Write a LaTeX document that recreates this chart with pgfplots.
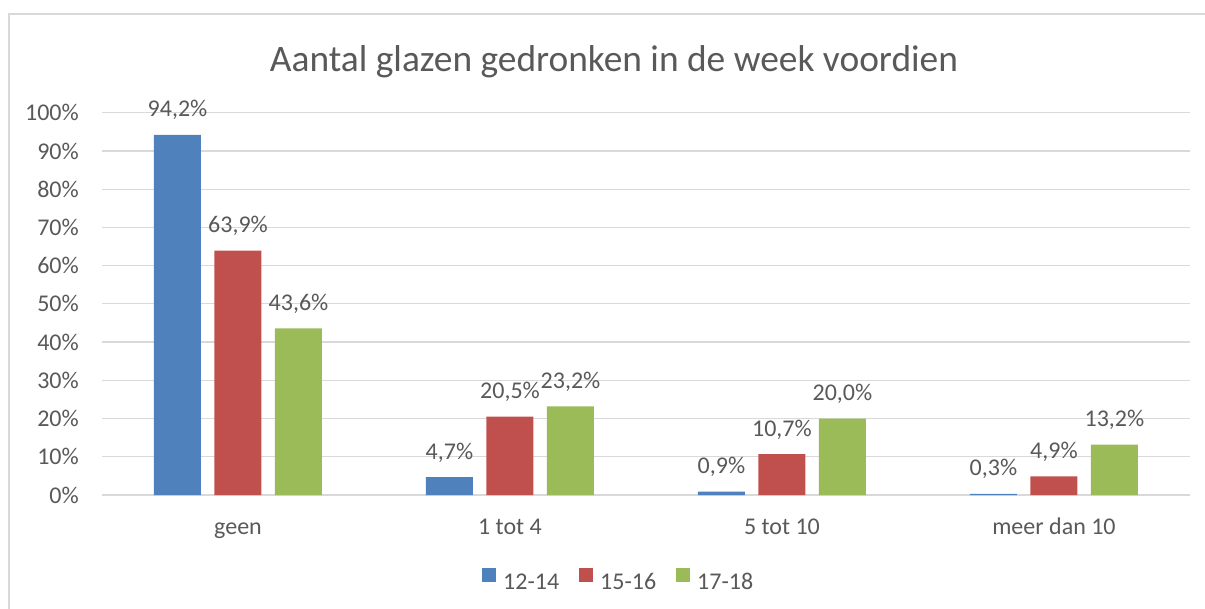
\documentclass[border=0pt]{standalone}
\usepackage{fontspec}
\setmainfont{Carlito}
\usepackage{pgfplots}
\pgfplotsset{compat=1.18}
\definecolor{cblue}{HTML}{4F81BD}
\definecolor{cred}{HTML}{C0504D}
\definecolor{cgreen}{HTML}{9BBB59}
\definecolor{txt}{HTML}{595959}
\definecolor{gridc}{HTML}{D9D9D9}
\newcommand{\lbl}{\fontsize{24}{28}\selectfont}

\begin{document}
\begin{tikzpicture}[x=1pt,y=1pt]
\useasboundingbox (-102,-113) rectangle (1103,495);
\begin{scope}
  \clip (-102,-113) rectangle (1103,495);
  \draw[line width=1.3pt, gridc] (-93,-300) rectangle (1300,481);
\end{scope}
\begin{axis}[
  at={(0,0)}, anchor=south west,
  width=1088pt, height=382.3pt, scale only axis,
  xmin=-0.5, xmax=3.5, ymin=0, ymax=100,
  clip=false,
  ybar=13.5pt, bar width=47pt,
  axis line style={draw=none},
  major tick length=0pt,
  ymajorgrids=true, xmajorgrids=false,
  grid style={draw=gridc, line width=1.3pt},
  xtick={0,1,2,3},
  xticklabels={geen,1 tot 4,5 tot 10,meer dan 10},
  ytick={0,10,...,100},
  yticklabels={0\%,10\%,20\%,30\%,40\%,50\%,60\%,70\%,80\%,90\%,100\%},
  ticklabel style={font=\lbl, text=txt, inner sep=0pt},
  xticklabel style={anchor=base, yshift=-39pt},
  yticklabel style={anchor=east, xshift=-23pt},
  title={Aantal glazen gedronken in de week voordien},
  title style={at={(0.4706,1)}, anchor=base, yshift=34.7pt,
    font=\fontsize{37.4}{44}\selectfont, text=txt, inner sep=0pt},
  nodes near coords={\pgfmathprintnumber[fixed,fixed zerofill,precision=1,use comma,assume math mode=true]{\pgfplotspointmeta}\%},
  every node near coord/.append style={font=\lbl, text=txt, anchor=base, yshift=18pt, inner sep=0pt, text depth=0pt},
  legend columns=-1,
  legend style={at={(0.474,-0.222)}, anchor=center, draw=none, font=\lbl, text=txt,
    nodes={inner sep=0pt},
    /tikz/every even column/.append style={column sep=20pt}},
  legend image code/.code={\fill[#1] (0pt,0pt) rectangle (14pt,14pt); \path (21pt,0pt);},
]
\addplot[fill=cblue, draw=none] coordinates {(0,94.2) (1,4.7) (2,0.9) (3,0.3)};
\addplot[fill=cred, draw=none] coordinates {(0,63.9) (1,20.5) (2,10.7) (3,4.9)};
\addplot[fill=cgreen, draw=none] coordinates {(0,43.6) (1,23.2) (2,20.0) (3,13.2)};
\legend{12-14,15-16,17-18}
\end{axis}
\end{tikzpicture}
\end{document}
